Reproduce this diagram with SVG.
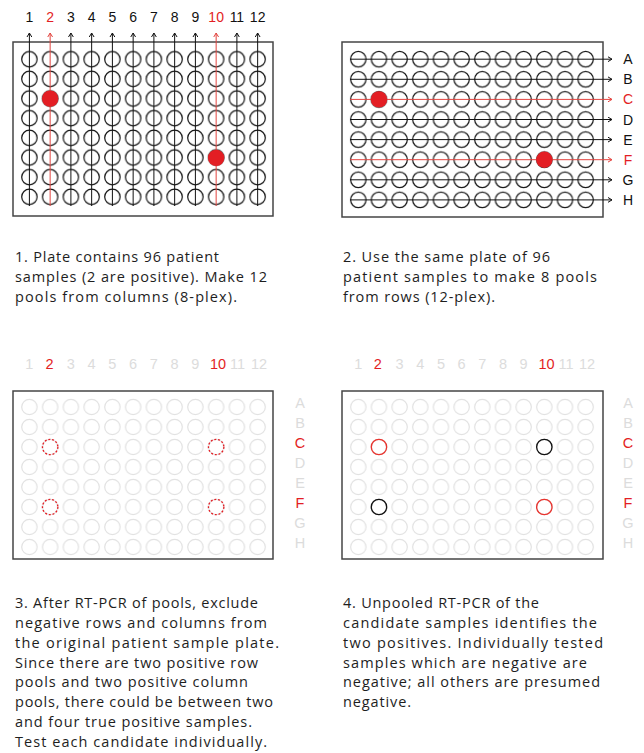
<svg xmlns="http://www.w3.org/2000/svg" width="644" height="753" viewBox="0 0 644 753">
<style>
.bg{fill:#ffffff}
.plate{fill:none;stroke:#454545;stroke-width:1.5}
.ln{stroke:#111;stroke-width:1;fill:none}
.lnr{stroke:#e2443f;stroke-width:1;fill:none}
.lab{font-family:"Liberation Sans",Arial,sans-serif;font-size:14px;fill:#111;text-anchor:middle}
.lab2{font-family:"Liberation Sans",Arial,sans-serif;font-size:14.5px;fill:#dcdcdc;text-anchor:middle}
.red{fill:#e31e24}
.body{font-family:"Open Sans","Noto Sans",sans-serif;font-size:14.5px;fill:#1e1e1e}
.dash{fill:none;stroke:#e31e24;stroke-width:1.3;stroke-dasharray:2 1.8}
.pos{fill:none;stroke:#e8342f;stroke-width:1.3}
.neg{fill:none;stroke:#111;stroke-width:1.3}
</style>
<defs>
<marker id="ak" viewBox="0 0 6 6" refX="5" refY="3" markerWidth="6" markerHeight="6" markerUnits="userSpaceOnUse" orient="auto"><path d="M1,0.6 L5,3 L1,5.4" fill="none" stroke="#111" stroke-width="1"/></marker>
<marker id="ar" viewBox="0 0 6 6" refX="5" refY="3" markerWidth="6" markerHeight="6" markerUnits="userSpaceOnUse" orient="auto"><path d="M1,0.6 L5,3 L1,5.4" fill="none" stroke="#e2443f" stroke-width="1"/></marker>
<pattern id="g1" patternUnits="userSpaceOnUse" x="19.025" y="49.475" width="20.75" height="19.65"><circle cx="10.375" cy="9.825" r="7.7" fill="none" stroke="#111" stroke-width="1.2"/></pattern>
<pattern id="g2" patternUnits="userSpaceOnUse" x="347.965" y="49.15" width="20.67" height="20.1"><circle cx="10.335" cy="10.05" r="7.7" fill="none" stroke="#111" stroke-width="1.2"/></pattern>
<pattern id="g3" patternUnits="userSpaceOnUse" x="19.025" y="397" width="20.75" height="20"><circle cx="10.375" cy="10" r="7.7" fill="none" stroke="#e2e2e2" stroke-width="1.2"/></pattern>
<pattern id="g4" patternUnits="userSpaceOnUse" x="347.965" y="397" width="20.67" height="20"><circle cx="10.335" cy="10" r="7.7" fill="none" stroke="#e2e2e2" stroke-width="1.2"/></pattern>
</defs>
<rect class="bg" x="0" y="0" width="644" height="753"/>

<g id="panel1">
<rect class="plate" x="13" y="42" width="260" height="174"/>
<rect x="19.025" y="49.475" width="249" height="157.2" fill="url(#g1)"/>
<g id="connectors1">
<path class="ln" marker-end="url(#ak)" d="M29.4,206V33"/>
<path class="ln" marker-end="url(#ak)" d="M70.9,206V33"/>
<path class="ln" marker-end="url(#ak)" d="M91.65,206V33"/>
<path class="ln" marker-end="url(#ak)" d="M112.4,206V33"/>
<path class="ln" marker-end="url(#ak)" d="M133.15,206V33"/>
<path class="ln" marker-end="url(#ak)" d="M153.9,206V33"/>
<path class="ln" marker-end="url(#ak)" d="M174.65,206V33"/>
<path class="ln" marker-end="url(#ak)" d="M195.4,206V33"/>
<path class="ln" marker-end="url(#ak)" d="M236.9,206V33"/>
<path class="ln" marker-end="url(#ak)" d="M257.65,206V33"/>
<path class="lnr" marker-end="url(#ar)" d="M50.15,206V33"/>
<path class="lnr" marker-end="url(#ar)" d="M216.15,206V33"/>
</g>
<circle class="red" cx="50.15" cy="98.6" r="8.2"/>
<circle class="red" cx="216.15" cy="157.9" r="8.2"/>
<g class="lab">
<text x="29.4" y="22">1</text><text x="50.15" y="22" class="red">2</text><text x="70.9" y="22">3</text><text x="91.65" y="22">4</text><text x="112.4" y="22">5</text><text x="133.15" y="22">6</text><text x="153.9" y="22">7</text><text x="174.65" y="22">8</text><text x="195.4" y="22">9</text><text x="216.15" y="22" class="red">10</text><text x="236.9" y="22">11</text><text x="257.65" y="22">12</text>
</g>
</g>

<g id="panel2">
<rect class="plate" x="342" y="42" width="261" height="175"/>
<rect x="347.965" y="49.15" width="248.04" height="160.8" fill="url(#g2)"/>
<g id="connectors2">
<path class="ln" marker-end="url(#ak)" d="M350,59.2H612"/>
<path class="ln" marker-end="url(#ak)" d="M350,79.3H612"/>
<path class="lnr" marker-end="url(#ar)" d="M350,99.4H612"/>
<path class="ln" marker-end="url(#ak)" d="M350,119.5H612"/>
<path class="ln" marker-end="url(#ak)" d="M350,139.6H612"/>
<path class="lnr" marker-end="url(#ar)" d="M350,159.7H612"/>
<path class="ln" marker-end="url(#ak)" d="M350,179.8H612"/>
<path class="ln" marker-end="url(#ak)" d="M350,199.9H612"/>
</g>
<circle class="red" cx="378.97" cy="99.4" r="8.2"/>
<circle class="red" cx="544.33" cy="159.7" r="8.2"/>
<g class="lab">
<text x="628" y="64.2">A</text><text x="628" y="84.3">B</text><text x="628" y="104.4" class="red">C</text><text x="628" y="124.5">D</text><text x="628" y="144.6">E</text><text x="628" y="164.7" class="red">F</text><text x="628" y="184.8">G</text><text x="628" y="204.9">H</text>
</g>
</g>

<g id="panel3">
<rect class="plate" x="13" y="391" width="260" height="168"/>
<rect x="19.025" y="397" width="249" height="160" fill="url(#g3)"/>
<circle class="dash" cx="50.15" cy="447" r="7.7"/>
<circle class="dash" cx="216.15" cy="447" r="7.7"/>
<circle class="dash" cx="50.15" cy="507" r="7.7"/>
<circle class="dash" cx="216.15" cy="507" r="7.7"/>
<g class="lab2">
<text x="29.4" y="369">1</text><text x="49.5" y="369" class="red">2</text><text x="70.9" y="369">3</text><text x="91.65" y="369">4</text><text x="112.4" y="369">5</text><text x="133.15" y="369">6</text><text x="153.9" y="369">7</text><text x="174.65" y="369">8</text><text x="195.4" y="369">9</text><text x="218" y="369" class="red">10</text><text x="237.5" y="369">11</text><text x="259" y="369">12</text>
<text x="300" y="407.5">A</text><text x="300" y="427.5">B</text><text x="300" y="447.5" class="red">C</text><text x="300" y="467.5">D</text><text x="300" y="487.5">E</text><text x="300" y="507.5" class="red">F</text><text x="300" y="527.5">G</text><text x="300" y="547.5">H</text>
</g>
</g>

<g id="panel4">
<rect class="plate" x="342" y="391" width="261" height="168"/>
<rect x="347.965" y="397" width="248.04" height="160" fill="url(#g4)"/>
<circle class="pos" cx="378.97" cy="447" r="7.7"/>
<circle class="neg" cx="544.33" cy="447" r="7.7"/>
<circle class="neg" cx="378.97" cy="507" r="7.7"/>
<circle class="pos" cx="544.33" cy="507" r="7.7"/>
<g class="lab2">
<text x="358.3" y="369">1</text><text x="377.7" y="369" class="red">2</text><text x="399.64" y="369">3</text><text x="420.31" y="369">4</text><text x="440.98" y="369">5</text><text x="461.65" y="369">6</text><text x="482.32" y="369">7</text><text x="502.99" y="369">8</text><text x="523.66" y="369">9</text><text x="546.5" y="369" class="red">10</text><text x="566" y="369">11</text><text x="587" y="369">12</text>
<text x="628" y="407.5">A</text><text x="628" y="427.5">B</text><text x="628" y="447.5" class="red">C</text><text x="628" y="467.5">D</text><text x="628" y="487.5">E</text><text x="628" y="507.5" class="red">F</text><text x="628" y="527.5">G</text><text x="628" y="547.5">H</text>
</g>
</g>

<g id="caption1" class="body">
<text x="15" y="261.5" textLength="204" lengthAdjust="spacing">1. Plate contains 96 patient</text>
<text x="15" y="281.5" textLength="252" lengthAdjust="spacing">samples (2 are positive). Make 12</text>
<text x="15" y="301.5" textLength="222" lengthAdjust="spacing">pools from columns (8-plex).</text>
</g>
<g id="caption2" class="body">
<text x="343" y="261.5" textLength="207" lengthAdjust="spacing">2. Use the same plate of 96</text>
<text x="343" y="281.5" textLength="254" lengthAdjust="spacing">patient samples to make 8 pools</text>
<text x="343" y="301.5" textLength="152" lengthAdjust="spacing">from rows (12-plex).</text>
</g>
<g id="caption3" class="body">
<text x="15" y="608.3" textLength="243" lengthAdjust="spacing">3. After RT-PCR of pools, exclude</text>
<text x="15" y="628.1" textLength="252" lengthAdjust="spacing">negative rows and columns from</text>
<text x="15" y="647.8" textLength="264" lengthAdjust="spacing">the original patient sample plate.</text>
<text x="15" y="667.6" textLength="243" lengthAdjust="spacing">Since there are two positive row</text>
<text x="15" y="687.4" textLength="233" lengthAdjust="spacing">pools and two positive column</text>
<text x="15" y="707.2" textLength="258" lengthAdjust="spacing">pools, there could be between two</text>
<text x="15" y="726.9" textLength="237" lengthAdjust="spacing">and four true positive samples.</text>
<text x="15" y="746.7" textLength="252" lengthAdjust="spacing">Test each candidate individually.</text>
</g>
<g id="caption4" class="body">
<text x="343" y="608.3" textLength="196" lengthAdjust="spacing">4. Unpooled RT-PCR of the</text>
<text x="343" y="628.1" textLength="254" lengthAdjust="spacing">candidate samples identifies the</text>
<text x="343" y="647.8" textLength="260" lengthAdjust="spacing">two positives. Individually tested</text>
<text x="343" y="667.6" textLength="244" lengthAdjust="spacing">samples which are negative are</text>
<text x="343" y="687.4" textLength="257" lengthAdjust="spacing">negative; all others are presumed</text>
<text x="343" y="707.2" textLength="68" lengthAdjust="spacing">negative.</text>
</g>
</svg>
